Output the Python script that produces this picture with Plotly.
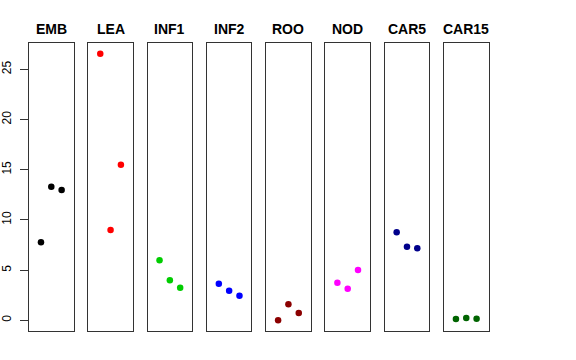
import plotly.graph_objects as go

categories = ["EMB", "LEA", "INF1", "INF2", "ROO", "NOD", "CAR5", "CAR15"]
colors = ["#000000", "#FF0000", "#00CD00", "#0000FF", "#8B0000", "#FF00FF", "#00008B", "#006400"]
rep_x = [1, 2, 3]
emb = [7.77, 13.3, 12.98]
lea = [26.55, 8.99, 15.5]
inf1 = [5.98, 3.98, 3.25]
inf2 = [3.65, 2.95, 2.45]
roo = [0.0, 1.59, 0.73]
nod = [3.75, 3.15, 5.01]
car5 = [8.76, 7.33, 7.17]
car15 = [0.13, 0.23, 0.16]
values = [emb, lea, inf1, inf2, roo, nod, car5, car15]
y_ticks = [0, 5, 10, 15, 20, 25]

W, H = 576, 360
fig = go.Figure()
left0, step, width = 29.0, 59.28, 44.6
y_top_px, y_bot_px = 43.3, 331.0
ydom = [(H - y_bot_px) / H, (H - y_top_px) / H]
y_range = [-(331 - 320.3) / 10.04, (320.3 - 43.3) / 10.04]

layout = dict(
    width=W, height=H,
    margin=dict(l=0, r=0, t=0, b=0),
    paper_bgcolor="white", plot_bgcolor="white",
    showlegend=False,
    font=dict(family="Liberation Sans, Arial, sans-serif", color="black"),
)
annotations = []
for i, (cat, col, vals) in enumerate(zip(categories, colors, values)):
    n = "" if i == 0 else str(i + 1)
    x0 = left0 + i * step
    x1 = x0 + width
    fig.add_trace(go.Scatter(
        x=rep_x, y=vals, mode="markers",
        marker=dict(color=col, size=6.5, line=dict(width=0)),
        xaxis="x" + n, yaxis="y" + n, hoverinfo="skip",
    ))
    layout["xaxis" + n] = dict(
        domain=[x0 / W, x1 / W], range=[-0.16, 4.16],
        showgrid=False, zeroline=False, showticklabels=False, ticks="",
        showline=True, mirror=True, linecolor="#333333", linewidth=1,
        anchor="y" + n, automargin=False,
    )
    ya = dict(
        domain=ydom, range=y_range, showgrid=False, zeroline=False,
        showline=True, mirror=True, linecolor="#333333", linewidth=1,
        anchor="x" + n, automargin=False,
    )
    if i == 0:
        ya.update(tickmode="array", tickvals=y_ticks, ticktext=[str(v) for v in y_ticks],
                  ticks="outside", ticklen=8, tickcolor="#333333", tickwidth=1,
                  tickangle=-90, tickfont=dict(size=12, color="black"),
                  ticklabelstandoff=4)
    else:
        ya.update(showticklabels=False, ticks="", matches="y")
    layout["yaxis" + n] = ya
    annotations.append(dict(
        text="<b>" + cat + "</b>", x=(x0 + x1) / 2 / W, y=(H - 29) / H,
        xref="paper", yref="paper", xanchor="center", yanchor="middle",
        showarrow=False, font=dict(size=14, color="black"),
    ))
layout["annotations"] = annotations
fig.update_layout(**layout)
fig.write_html("out.html", config={"displayModeBar": False},
               post_script="document.body.style.margin='0';document.body.style.padding='0';")
